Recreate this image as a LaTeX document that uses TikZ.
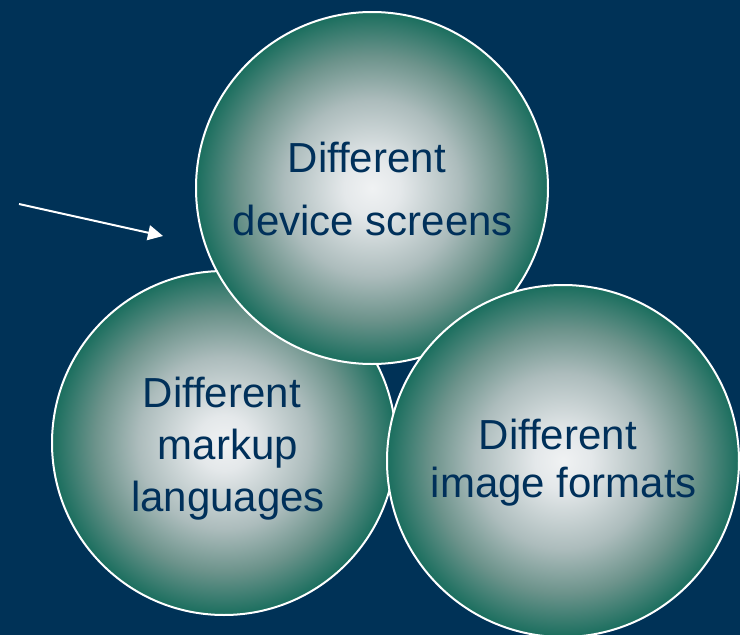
\documentclass[tikz,border=0pt]{standalone}
\usepackage{fontspec}
\setmainfont{Liberation Sans}
\usetikzlibrary{arrows.meta}
\definecolor{bgnavy}{RGB}{0,50,87}
\definecolor{txtnavy}{RGB}{0,48,90}
\definecolor{orbA}{RGB}{240,242,243}
\definecolor{orbB}{RGB}{228,232,234}
\definecolor{orbC}{RGB}{172,188,188}
\definecolor{orbD}{RGB}{108,147,139}
\definecolor{orbE}{RGB}{26,110,94}
\pgfdeclareradialshading{orbshade}{\pgfpoint{0bp}{0bp}}{color(0bp)=(orbA); color(4bp)=(orbB); color(12.5bp)=(orbC); color(18.75bp)=(orbD); color(25bp)=(orbE); color(50bp)=(orbE)}
\begin{document}
\begin{tikzpicture}[x=1pt,y=-1pt,
  orb/.style={circle, draw=white, line width=2pt, shade, shading=orbshade, inner sep=0pt, minimum size=#1},
  orbtext/.style={font=\fontsize{42}{#1}\selectfont, text=txtnavy, align=center, inner sep=0pt},
  pointer/.style={draw=white, line width=2pt, -{Triangle[length=15pt,width=15pt]}}]
\fill[bgnavy] (0,0) rectangle (740,635);
\useasboundingbox (0,0) rectangle (740,635);
\node[orb=344pt] (left) at (224,443) {};
\node[orbtext=52pt] (lefttext) at (228,449) {Different\hspace*{0.3em}\\markup\\languages};
\node[orb=352pt] (top) at (372,188) {};
\node[orbtext=63pt] (toptext) at (373,189) {Different\hspace*{0.3em}\\device screens};
\node[orb=352pt] (right) at (563,461) {};
\node[orbtext=48pt] (righttext) at (564,463) {Different\hspace*{0.3em}\\image formats};
\coordinate (a0) at (19,204);
\coordinate (a1) at (163,236);
\draw[pointer] (a0) -- (a1);
\end{tikzpicture}
\end{document}
